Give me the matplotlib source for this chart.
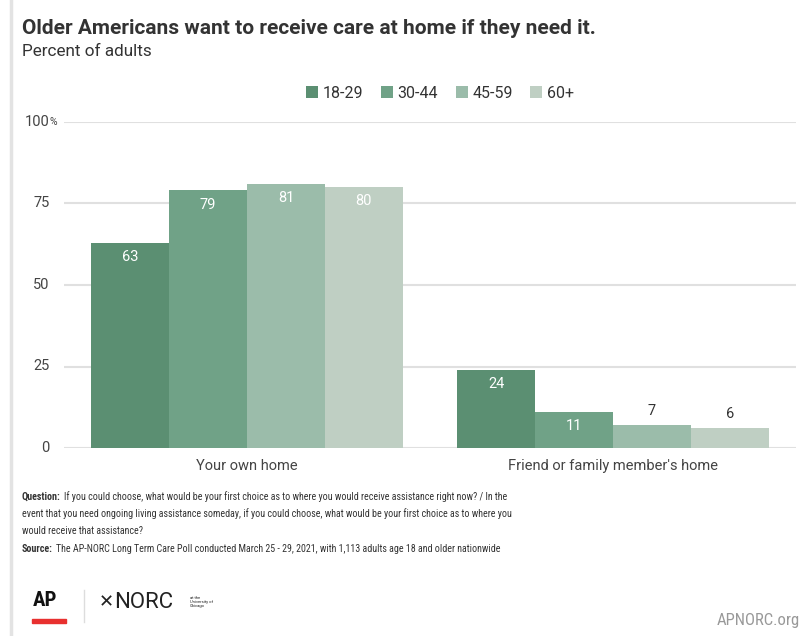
import numpy as np
import matplotlib.pyplot as plt
from matplotlib import font_manager
from matplotlib.patches import Rectangle
from matplotlib.lines import Line2D

plt.rcParams['font.family'] = ['Roboto', 'DejaVu Sans']

installed = {f.name for f in font_manager.fontManager.ttflist}
narrow_font = 'Roboto Condensed' if 'Roboto Condensed' in installed else 'Roboto'

# Data
places = ["Your own home", "Friend or family member's home"]
ages = ['18-29', '30-44', '45-59', '60+']
values = [
    [63, 24],   # 18-29
    [79, 11],   # 30-44
    [81, 7],    # 45-59
    [80, 6],    # 60+
]
colors = ['#5b8f72', '#70a287', '#9bbcaa', '#bfcfc3']
yticks = [0, 25, 50, 75, 100]

fig = plt.figure(figsize=(8.04, 6.36), dpi=100)
ax = fig.add_axes([64 / 804, 1 - 448 / 636, 732 / 804, 326 / 636])

x = np.arange(len(places))
width = 0.213
for i, age in enumerate(ages):
    pos = x + (i - 1.5) * width
    bars = ax.bar(pos, values[i], width, color=colors[i], label=age, zorder=3)
    for b, v in zip(bars, values[i]):
        if v >= 10:
            ax.text(b.get_x() + b.get_width() / 2, v - 2.2, str(v), ha='center', va='top',
                    color='white', fontsize=10.5, zorder=4)
        else:
            ax.text(b.get_x() + b.get_width() / 2, v + 2.2, str(v), ha='center', va='bottom',
                    color='#333333', fontsize=10.5, zorder=4)

ax.set_xlim(-0.5, 1.5)
ax.set_ylim(0, 100)
for t in yticks:
    ax.axhline(t, color='#e0e0e0', lw=1.5, zorder=1)
for s in ax.spines.values():
    s.set_visible(False)
ax.set_yticks([])
ax.set_xticks(x)
ax.set_xticklabels(places, fontsize=10.5, color='#444444')
ax.tick_params(axis='x', length=0, pad=8)

# y tick labels drawn by hand so "100" gets the small % sign
for t in yticks:
    ax.text(-0.54, t, str(t), ha='right', va='center', fontsize=10.5, color='#444444')
ax.text(-0.54, 100, '%', ha='left', va='center', fontsize=7.5, color='#444444')

# left frame line
fig.add_artist(Line2D([11 / 804, 11 / 804], [0, 1], color='#e3e3e3', lw=2.5))

# titles
fig.text(22 / 804, 1 - 28 / 636, 'Older Americans want to receive care at home if they need it.',
         fontsize=15, fontweight='bold', color='#333333', va='center', ha='left')
fig.text(22 / 804, 1 - 52 / 636, 'Percent of adults', fontsize=12.3, color='#333333',
         va='center', ha='left')

fig.legend(*ax.get_legend_handles_labels(), loc='center', bbox_to_anchor=(440 / 804, 1 - 93 / 636),
           ncol=4, frameon=False, fontsize=11.5, handlelength=0.75, handleheight=0.75,
           handletextpad=0.3, columnspacing=1.1, labelcolor='#333333')

# notes
notes_color = '#333333'
lines = [
    ('Question:', 'If you could choose, what would be your first choice as to where you would receive assistance right now? / In the'),
    ('', 'event that you need ongoing living assistance someday, if you could choose, what would be your first choice as to where you'),
    ('', 'would receive that assistance?'),
    ('Source:', 'The AP-NORC Long Term Care Poll conducted March 25 - 29, 2021, with 1,113 adults age 18 and older nationwide'),
]
ys = [497, 514, 531, 549]
fig.canvas.draw()
for (bold, rest), yy in zip(lines, ys):
    x0 = 22 / 804
    if bold:
        t = fig.text(x0, 1 - yy / 636, bold, fontsize=7.2, fontweight='bold', color=notes_color,
                     va='center', ha='left', family=narrow_font)
        bb = t.get_window_extent(renderer=fig.canvas.get_renderer())
        x0 = (bb.x1 + 3) / 804
    fig.text(x0, 1 - yy / 636, rest, fontsize=7.2, color=notes_color, va='center', ha='left',
             family=narrow_font)

# logos
fig.text(33 / 804, 1 - 601 / 636, 'AP', fontsize=15, fontweight='bold', color='#111111',
         va='center', ha='left', family=narrow_font)
fig.add_artist(Rectangle((32 / 804, 1 - 623 / 636), 34 / 804, 4 / 636, color='#e8302f'))
fig.add_artist(Line2D([84 / 804, 84 / 804], [1 - 622 / 636, 1 - 590 / 636], color='#dddddd', lw=1))
fig.text(99 / 804, 1 - 602 / 636, '\u2715', fontsize=13, color='#222222', va='center', ha='left',
         family='DejaVu Sans')
fig.text(114 / 804, 1 - 602 / 636, 'NORC', fontsize=16, color='#222222', va='center', ha='left')
fig.text(190 / 804, 1 - 602 / 636, 'at the\nUniversity of\nChicago', fontsize=3, color='#222222',
         va='center', ha='left', linespacing=1.1)
fig.text(800 / 804, 1 - 620 / 636, 'APNORC.org', fontsize=12, color='#999999', va='center', ha='right',
         family=narrow_font)

fig.savefig('out.png', dpi=100, facecolor='white')
